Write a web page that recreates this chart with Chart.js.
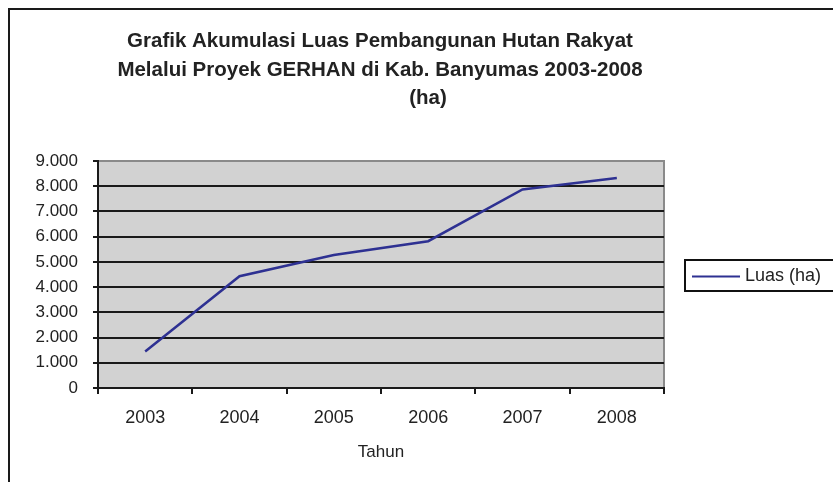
<!DOCTYPE html>
<html>
<head>
<meta charset="utf-8">
<script src="https://cdn.jsdelivr.net/npm/chart.js@4/dist/chart.umd.min.js"></script>
<style>
  html, body { margin: 0; padding: 0; background: #fff; }
  #wrap { width: 833px; height: 482px; position: relative; }
</style>
</head>
<body>
<div id="wrap"><canvas id="myChart" width="833" height="482"></canvas></div>
<script>
"use strict";

const years = ["2003", "2004", "2005", "2006", "2007", "2008"];
const luas = [1450, 4430, 5270, 5820, 7870, 8330];
const titleLines = [
  "Grafik Akumulasi Luas Pembangunan Hutan Rakyat",
  "Melalui Proyek GERHAN di Kab. Banyumas 2003-2008",
  "(ha)"
];
const seriesLabel = "Luas (ha)";
const xTitle = "Tahun";

const FONT = "'Liberation Sans', Arial, sans-serif";

const frame = {
  id: "frame",
  beforeDraw(chart) {
    const { ctx, chartArea: a } = chart;
    ctx.save();
    ctx.fillStyle = "#d2d2d2";
    ctx.fillRect(a.left, a.top, a.right - a.left, a.bottom - a.top);
    ctx.strokeStyle = "#8a8a8a";
    ctx.lineWidth = 2;
    ctx.beginPath();
    ctx.moveTo(a.left, a.top);
    ctx.lineTo(a.right, a.top);
    ctx.lineTo(a.right, a.bottom);
    ctx.stroke();
    // outer border of the chart object (left and top only are visible)
    ctx.strokeStyle = "#1a1a1a";
    ctx.beginPath();
    ctx.moveTo(9, chart.height);
    ctx.lineTo(9, 9);
    ctx.lineTo(chart.width, 9);
    ctx.stroke();
    ctx.restore();
  },
  afterDraw(chart) {
    const ctx = chart.ctx;
    ctx.save();
    // title
    ctx.fillStyle = "#222";
    ctx.font = "bold 20.5px " + FONT;
    ctx.textAlign = "center";
    ctx.textBaseline = "alphabetic";
    ctx.fillText(titleLines[0], 380, 47);
    ctx.fillText(titleLines[1], 380, 76);
    ctx.fillText(titleLines[2], 428, 104);
    // legend
    const ds = chart.data.datasets[0];
    ctx.strokeStyle = "#111";
    ctx.lineWidth = 2;
    ctx.strokeRect(685, 260, 170, 31);
    ctx.strokeStyle = ds.borderColor;
    ctx.lineWidth = 2;
    ctx.beginPath();
    ctx.moveTo(692, 276.5);
    ctx.lineTo(740, 276.5);
    ctx.stroke();
    ctx.fillStyle = "#222";
    ctx.font = "18px " + FONT;
    ctx.textAlign = "left";
    ctx.textBaseline = "middle";
    ctx.fillText(ds.label, 745, 276);
    ctx.restore();
  }
};

const ctx = document.getElementById("myChart").getContext("2d");

new Chart(ctx, {
  type: "line",
  data: {
    labels: years,
    datasets: [{
      label: seriesLabel,
      data: luas,
      borderColor: "#2e3192",
      borderWidth: 2.5,
      pointRadius: 0,
      tension: 0,
      fill: false
    }]
  },
  options: {
    responsive: false,
    animation: false,
    layout: {
      padding: { left: 0, top: 161, right: 169, bottom: 0 }
    },
    plugins: {
      legend: { display: false },
      title: { display: false },
      tooltip: { enabled: false }
    },
    scales: {
      x: {
        offset: true,
        afterFit(scale) { scale.height = 94; },
        grid: {
          offset: true,
          drawOnChartArea: false,
          tickLength: 6,
          color: "#1a1a1a",
          lineWidth: 2
        },
        border: { display: true, color: "#1a1a1a", width: 2 },
        ticks: {
          color: "#222",
          padding: 13,
          font: { family: FONT, size: 18 }
        },
        title: {
          display: true,
          text: xTitle,
          color: "#222",
          padding: { top: 0, bottom: 19 },
          font: { family: FONT, size: 17 }
        }
      },
      y: {
        min: 0,
        max: 9000,
        afterFit(scale) { scale.width = 98; },
        grid: {
          tickLength: 5,
          lineWidth: 2,
          color: (c) => (c.tick && c.tick.value === 9000 ? "rgba(0,0,0,0)" : "#1a1a1a"),
          tickColor: "#1a1a1a"
        },
        border: { display: true, color: "#1a1a1a", width: 2 },
        ticks: {
          stepSize: 1000,
          color: "#222",
          padding: 15,
          font: { family: FONT, size: 17 },
          callback: (v) => v.toLocaleString("de-DE")
        }
      }
    }
  },
  plugins: [frame]
});
</script>
</body>
</html>
